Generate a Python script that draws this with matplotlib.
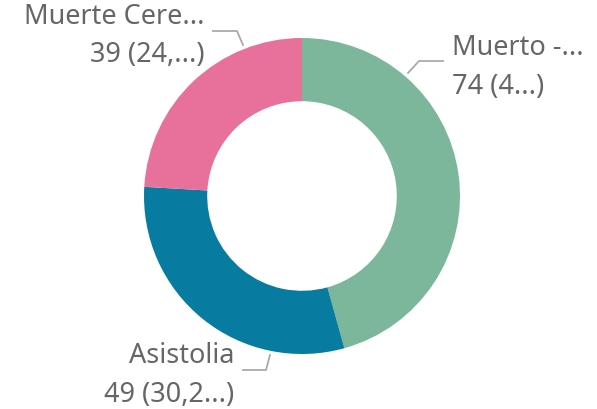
import matplotlib.pyplot as plt

# Data
categories = ["Muerto -...", "Asistolia", "Muerte Cere..."]
values = [74, 49, 39]
value_labels = ["74 (4...)", "49 (30,2...)", "39 (24,...)"]
colors = ["#7cb79b", "#077ba0", "#e8719b"]

W, H = 597, 410
fig = plt.figure(figsize=(W / 100, H / 100), dpi=100)
ax = fig.add_axes([0, 0, 1, 1])

cx, cy, r = 302, 197, 158
# y axis is flipped below, so startangle -90 is the top and counterclock reads clockwise
ax.pie(values, colors=colors, startangle=-90, counterclock=True,
       radius=r, center=(cx, cy), wedgeprops=dict(width=r * 0.40, linewidth=0),
       frame=True)
ax.set_xlim(0, W)
ax.set_ylim(H, 0)
ax.axis("off")

txt = dict(color="#666666", fontsize=19.5, family="Noto Sans")
line = dict(color="#aaaaaa", lw=1.3)

# Muerto
ax.text(452, 55, categories[0], ha="left", va="baseline", **txt)
ax.text(452, 94, value_labels[0], ha="left", va="baseline", **txt)
ax.plot([443, 419, 408], [62, 62, 74], **line)

# Asistolia
ax.text(234, 363, categories[1], ha="right", va="baseline", **txt)
ax.text(234, 402, value_labels[1], ha="right", va="baseline", **txt)
ax.plot([243, 266, 270], [371, 371, 356], **line)

# Muerte Cere
ax.text(204, 24, categories[2], ha="right", va="baseline", **txt)
ax.text(204, 62, value_labels[2], ha="right", va="baseline", **txt)
ax.plot([213, 237, 243], [32, 32, 46], **line)

fig.savefig("out.png", dpi=100)
